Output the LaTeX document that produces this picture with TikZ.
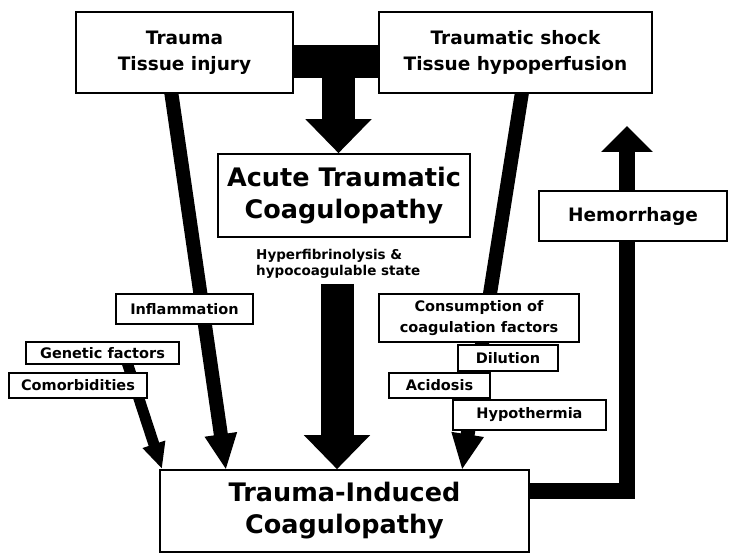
\documentclass[tikz,border=0pt]{standalone}
\usepackage{fontspec}
\setmainfont{DejaVu Sans}
\usetikzlibrary{arrows.meta,positioning,backgrounds}

\tikzset{
  box/.style={draw, line width=1.6pt, fill=white, align=center, inner sep=0pt},
  fbig/.style={font=\bfseries\fontsize{25.5}{32}\selectfont},
  fmid/.style={font=\bfseries\fontsize{18.5}{26}\selectfont},
  fsmall/.style={font=\bfseries\fontsize{14.5}{21}\selectfont},
  thinarrow/.style={line width=14pt, -{Triangle[length=36pt,width=30pt]}},
  fatarrow/.style={line width=33pt, -{Triangle[length=34pt,width=64pt]}},
  hemarrow/.style={line width=16pt, line join=miter, -{Triangle[length=26pt,width=50pt]}}
}

\begin{document}
\begin{tikzpicture}[x=1pt,y=-1pt]
    \useasboundingbox (0,0) rectangle (729,553);

    % Causes
    \node[box, fmid, minimum width=217pt, minimum height=81pt] (trauma) at (184.5,52.5) {Trauma\\Tissue injury};
    \node[box, fmid, minimum width=273pt, minimum height=81pt] (shock) at (515.5,52.5) {Traumatic shock\\Tissue hypoperfusion};

    % ATC
    \node[box, fbig, minimum width=252pt, minimum height=83pt] (atc) at (344,195.5) {Acute Traumatic\\Coagulopathy};
    \node[align=left, inner sep=0pt, anchor=west, font=\bfseries\fontsize{13.5}{16}\selectfont] (hyper) at (256,264) {Hyperfibrinolysis \&\\hypocoagulable state};

    % Hemorrhage
    \node[box, fmid, minimum width=188pt, minimum height=50pt] (hem) at (633,216) {Hemorrhage};

    % Left factors
    \node[box, fsmall, minimum width=137pt, minimum height=30pt] (infl) at (184.5,309) {Inflammation};
    \node[box, fsmall, minimum width=153pt, minimum height=22pt] (gen) at (102.5,353) {Genetic factors};
    \node[box, fsmall, minimum width=138pt, minimum height=25pt] (comor) at (78,385.5) {Comorbidities};

    % Right factors
    \node[box, fsmall, minimum width=200pt, minimum height=48pt] (cons) at (479,318) {Consumption of\\coagulation factors};
    \node[box, fsmall, minimum width=100pt, minimum height=26pt] (dil) at (508,358) {Dilution};
    \node[box, fsmall, minimum width=101pt, minimum height=25pt] (acid) at (439.5,385.5) {Acidosis};
    \node[box, fsmall, minimum width=153pt, minimum height=30pt] (hypo) at (529.5,415) {Hypothermia};

    % TIC
    \node[box, fbig, minimum width=369pt, minimum height=82pt] (tic) at (344.5,511) {Trauma-Induced\\Coagulopathy};

    % Arrows behind the boxes
    \begin{scope}[on background layer]
        \coordinate (tbar) at (338.5,61.5);
        \draw[line width=33pt] (trauma.east |- tbar) -- (shock.west |- tbar);
        \draw[fatarrow] (tbar) -- (tbar |- atc.north);

        \coordinate (cstart) at (337,284);
        \draw[fatarrow] (cstart) -- (cstart |- tic.north);

        \coordinate (tfrom) at (170,84);
        \coordinate (tto) at (226,470);
        \draw[thinarrow] (tfrom) -- (tto);

        \coordinate (sfrom) at (523,86);
        \coordinate (sto) at (462,470);
        \draw[thinarrow] (sfrom) -- (sto);

        \coordinate (gfrom) at (124,353);
        \coordinate (gto) at (162,469);
        \draw[line width=11pt, -{Triangle[length=26pt,width=22pt]}] (gfrom) -- (gto);

        \coordinate (hbend) at (627,491.5);
        \coordinate (htip) at (627,126);
        \draw[hemarrow] (tic.east |- hbend) -- (hbend) -- (htip);
    \end{scope}
\end{tikzpicture}
\end{document}
